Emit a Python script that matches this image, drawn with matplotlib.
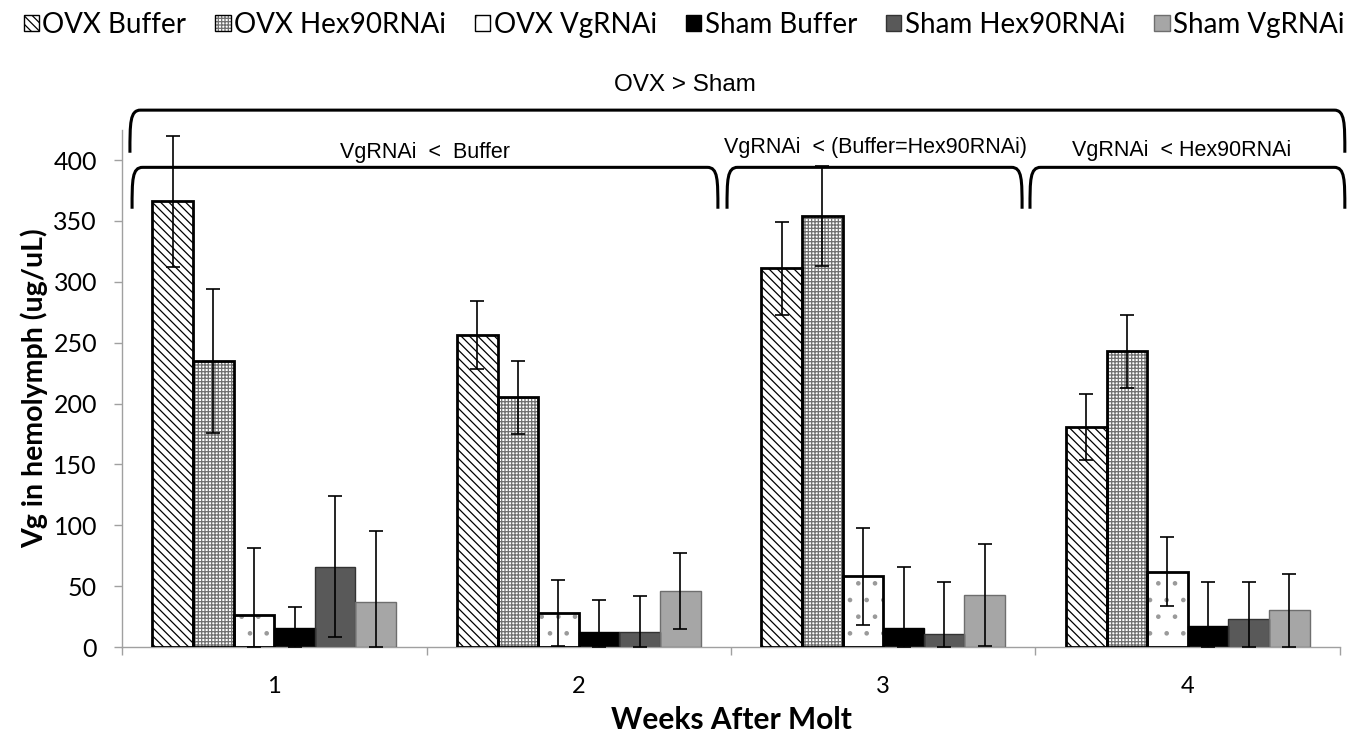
import numpy as np
import matplotlib
matplotlib.use("Agg")
import matplotlib.pyplot as plt
from matplotlib.patches import Patch, PathPatch
from matplotlib.path import Path

weeks = ["1", "2", "3", "4"]
series = ["OVX Buffer", "OVX Hex90RNAi", "OVX VgRNAi", "Sham Buffer", "Sham Hex90RNAi", "Sham VgRNAi"]
ovx_buffer = [366, 256, 311, 181]
ovx_hex = [235, 205, 354, 243]
ovx_vg = [26, 28, 58, 62]
sham_buffer = [16, 12, 16, 17]
sham_hex = [66, 12, 11, 23]
sham_vg = [37, 46, 43, 30]
err_ovx_buffer = [54, 28, 38, 27]
err_ovx_hex = [59, 30, 41, 30]
err_ovx_vg = [55, 27, 40, 28]
err_sham_buffer = [17, 27, 50, 36]
err_sham_hex = [58, 30, 42, 30]
err_sham_vg = [58, 31, 42, 30]
y_ticks = [0, 50, 100, 150, 200, 250, 300, 350, 400]
brackets_text = ["OVX > Sham", "VgRNAi  <  Buffer", "VgRNAi  < (Buffer=Hex90RNAi)", "VgRNAi  < Hex90RNAi"]

values = [ovx_buffer, ovx_hex, ovx_vg, sham_buffer, sham_hex, sham_vg]
errors = [err_ovx_buffer, err_ovx_hex, err_ovx_vg, err_sham_buffer, err_sham_hex, err_sham_vg]

styles = [
    dict(face="white", hatch="\\\\\\\\", hc="black", edge="black", lw=2.0),
    dict(face="white", hatch="+++++", hc="#707070", edge="black", lw=2.0),
    dict(face="white", hatch=".", hc="#9a9a9a", edge="black", lw=2.0),
    dict(face="black", hatch=None, hc="black", edge="black", lw=1.0),
    dict(face="#595959", hatch=None, hc="#595959", edge="#333333", lw=1.0),
    dict(face="#a6a6a6", hatch=None, hc="#a6a6a6", edge="#6e6e6e", lw=1.0),
]

plt.rcParams['hatch.linewidth'] = 0.9
fig = plt.figure(figsize=(13.68, 7.35), dpi=100)
ax = fig.add_axes([0.0892, 0.1197, 0.8903, 0.7033])

x = np.arange(len(weeks))
n = len(series)
w = 0.8 / n
handles = []
for i, (vals, errs, st) in enumerate(zip(values, errors, styles)):
    pos = x - 0.4 + w * (i + 0.5)
    vals = np.array(vals, float)
    errs = np.array(errs, float)
    ax.bar(pos, vals, w, facecolor=st["face"], edgecolor=st["hc"], hatch=st["hatch"], linewidth=0, zorder=2)
    ax.bar(pos, vals, w, fill=False, edgecolor=st["edge"], linewidth=st["lw"], zorder=3)
    lower = np.minimum(errs, vals)
    ax.errorbar(pos, vals, yerr=[lower, errs], fmt="none", ecolor="black", elinewidth=1.2,
                capsize=5, capthick=1.2, zorder=4)
    h1 = Patch(facecolor=st["face"], edgecolor=st["hc"], hatch=st["hatch"], linewidth=0)
    h2 = Patch(fill=False, edgecolor=st["edge"] if i > 2 else "black", linewidth=1.0)
    handles.append((h1, h2))

ax.set_xlim(-0.5, 3.5)
ax.set_ylim(0, 424.6)
ax.set_yticks(y_ticks)
ax.set_yticklabels([str(t) for t in y_ticks], fontsize=18, fontfamily="Lato")
ax.set_xticks(x)
ax.set_xticklabels(weeks, fontsize=17, fontfamily="Lato")
ax.set_xticks([-0.5, 0.5, 1.5, 2.5, 3.5], minor=True)
ax.tick_params(axis="x", which="major", length=0, pad=21)
ax.tick_params(axis="x", which="minor", length=6, color="#a0a0a0", width=1)
ax.tick_params(axis="y", length=6, color="#a0a0a0", width=1, pad=12)
for s in ["top", "right"]:
    ax.spines[s].set_visible(False)
for s in ["left", "bottom"]:
    ax.spines[s].set_color("#a0a0a0")
    ax.spines[s].set_linewidth(1)

ax.set_xlabel("Weeks After Molt", fontsize=21.5, fontweight="bold", fontfamily="Lato", labelpad=6)
ax.set_ylabel("Vg in hemolymph (ug/uL)", fontsize=20.5, fontweight="bold", fontfamily="Lato", labelpad=4)


def bracket(x0, x1, ytop, ybot, dx=0.035):
    dy = (ytop - ybot)
    verts = [(x0, ybot), (x0, ybot + dy * 0.7), (x0, ytop), (x0 + dx, ytop),
             (x1 - dx, ytop), (x1, ytop), (x1, ybot + dy * 0.7), (x1, ybot)]
    codes = [Path.MOVETO, Path.CURVE4, Path.CURVE4, Path.CURVE4,
             Path.LINETO, Path.CURVE4, Path.CURVE4, Path.CURVE4]
    ax.add_patch(PathPatch(Path(verts, codes), fill=False, lw=2.2, color="black",
                           clip_on=False, zorder=5))


bracket(-0.474, 3.516, 441, 406)
bracket(-0.467, 1.457, 394, 360)
bracket(1.487, 2.456, 394, 360)
bracket(2.482, 3.516, 394, 360)
tkw = dict(ha="center", va="center", fontfamily="Liberation Sans", clip_on=False)
ax.text(1.35, 462, brackets_text[0], fontsize=17.5, **tkw)
ax.text(0.495, 406, brackets_text[1], fontsize=15.5, **tkw)
ax.text(1.976, 410, brackets_text[2], fontsize=15.5, **tkw)
ax.text(2.98, 408, brackets_text[3], fontsize=15.5, **tkw)

fig.legend(handles, series, loc="upper center", bbox_to_anchor=(0.5, 1.018), ncol=6, frameon=False,
           prop={"family": "Lato", "size": 20}, handlelength=0.55, handleheight=0.55,
           handletextpad=0.12, columnspacing=1.05)

fig.savefig("out.png", dpi=100, facecolor="white")
